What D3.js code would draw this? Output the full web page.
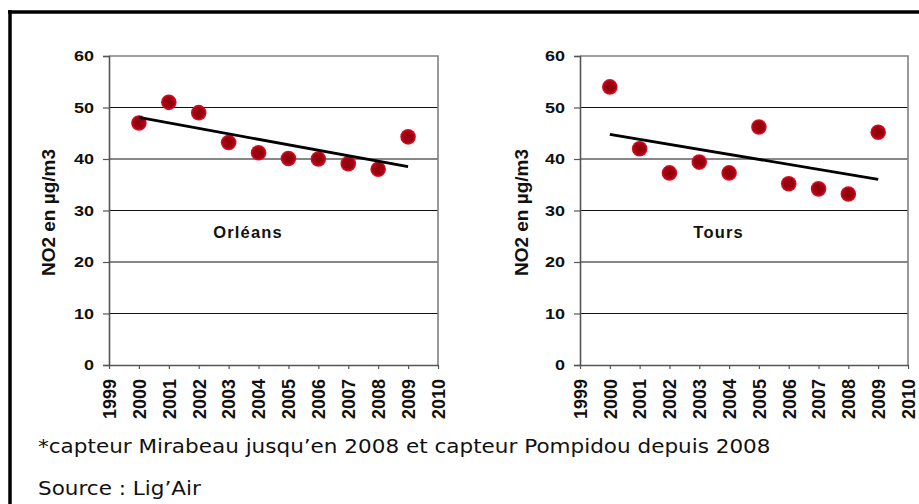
<!DOCTYPE html>
<html>
<head>
<meta charset="utf-8">
<script src="https://cdn.jsdelivr.net/npm/d3@7"></script>
<style>
  html, body { margin: 0; padding: 0; background: #fff; }
  svg { display: block; }
</style>
</head>
<body>
<svg id="chart" width="919" height="504"></svg>
<script>
// Annual mean NO2 concentrations (µg/m3), 2000–2009
const years = [2000, 2001, 2002, 2003, 2004, 2005, 2006, 2007, 2008, 2009];
const orleansValues = [47, 51, 49, 43.2, 41.2, 40.1, 40, 39.1, 38, 44.3];
const toursValues = [54, 42, 37.3, 39.4, 37.3, 46.2, 35.2, 34.2, 33.2, 45.2];
const yTicks = [0, 10, 20, 30, 40, 50, 60];
const xTicks = [1999, 2000, 2001, 2002, 2003, 2004, 2005, 2006, 2007, 2008, 2009, 2010];
const cityNames = ["Orléans", "Tours"];
const yTitle = "NO2 en µg/m3";
const footnote = "*capteur Mirabeau jusqu’en 2008 et capteur Pompidou depuis 2008";
const sourceText = "Source : Lig’Air";

const svg = d3.select("#chart");

// radial shading for the markers
const defs = svg.append("defs");
const grad = defs.append("radialGradient").attr("id", "dot");
grad.append("stop").attr("offset", "0%").attr("stop-color", "#8e0010");
grad.append("stop").attr("offset", "65%").attr("stop-color", "#a0000f");
grad.append("stop").attr("offset", "100%").attr("stop-color", "#e0102a");
defs.append("filter").attr("id", "soft")
  .append("feGaussianBlur").attr("stdDeviation", 0.5);

// outer frame (top and left edges visible)
svg.append("line").attr("x1", 8).attr("x2", 919).attr("y1", 12).attr("y2", 12)
  .attr("stroke", "#000").attr("stroke-width", 3.5);
svg.append("line").attr("x1", 10).attr("x2", 10).attr("y1", 10).attr("y2", 504)
  .attr("stroke", "#000").attr("stroke-width", 3.5);

const fontChart = "Arial, 'Liberation Sans', sans-serif";
const tickStretch = 1.2;

function linearFit(xs, ys) {
  const n = xs.length;
  const mx = d3.mean(xs), my = d3.mean(ys);
  let sxy = 0, sxx = 0;
  for (let i = 0; i < n; i++) {
    sxy += (xs[i] - mx) * (ys[i] - my);
    sxx += (xs[i] - mx) * (xs[i] - mx);
  }
  const b = sxy / sxx;
  return x => my + b * (x - mx);
}

function drawPanel(left, right, values, name, titleX) {
  const top = 56, bottom = 365;
  const x = d3.scaleLinear().domain([1999, 2010]).range([left, right]);
  const y = d3.scaleLinear().domain([0, 60]).range([bottom, top]);
  const g = svg.append("g");

  // gridlines
  g.selectAll("line.grid").data(yTicks.filter(v => v > 0 && v < 60)).join("line")
    .attr("x1", left).attr("x2", right)
    .attr("y1", d => y(d)).attr("y2", d => y(d))
    .attr("stroke", "#111").attr("stroke-width", 1.1);

  // plot frame top / right
  g.append("path")
    .attr("d", `M${left},${y(60)}H${right}V${bottom}`)
    .attr("fill", "none").attr("stroke", "#808080").attr("stroke-width", 1.6);

  // y axis
  const yAxis = g.append("g").attr("transform", `translate(${left},0)`)
    .call(d3.axisLeft(y).tickValues(yTicks).tickSize(6).tickPadding(6));
  yAxis.select(".domain").attr("stroke", "#555").attr("stroke-width", 1.6);
  yAxis.selectAll(".tick line").attr("stroke", "#555").attr("stroke-width", 1.2);
  yAxis.selectAll("text").attr("font-family", fontChart).attr("font-weight", "bold")
    .attr("font-size", 15).attr("fill", "#111")
    .attr("x", -15 / tickStretch)
    .attr("transform", `scale(${tickStretch},1)`);

  // x axis
  const xAxis = g.append("g").attr("transform", `translate(0,${bottom})`)
    .call(d3.axisBottom(x).tickValues(xTicks).tickFormat(d3.format("d")).tickSize(4).tickSizeOuter(0));
  xAxis.select(".domain").attr("stroke", "#555").attr("stroke-width", 1.6);
  xAxis.selectAll(".tick line").attr("stroke", "#555").attr("stroke-width", 1.2);
  xAxis.selectAll("text")
    .attr("font-family", fontChart).attr("font-weight", "bold")
    .attr("font-size", 18).attr("fill", "#111")
    .attr("transform", "rotate(-90)")
    .attr("text-anchor", "end")
    .attr("x", -14).attr("y", 0).attr("dy", "0.35em");

  // y title
  g.append("text")
    .attr("transform", `translate(${titleX},${(top + bottom) / 2 + 2}) rotate(-90)`)
    .attr("text-anchor", "middle").attr("dy", "0.35em")
    .attr("font-family", fontChart).attr("font-weight", "bold")
    .attr("font-size", 19).attr("fill", "#111")
    .text(yTitle);

  // markers
  g.selectAll("circle").data(years.map((yr, i) => [yr, values[i]])).join("circle")
    .attr("cx", d => x(d[0])).attr("cy", d => y(d[1])).attr("r", 7.8)
    .attr("fill", "url(#dot)").attr("filter", "url(#soft)");

  // linear trend
  const fit = linearFit(years, values);
  const x0 = years[0], x1 = years[years.length - 1];
  g.append("line")
    .attr("x1", x(x0)).attr("y1", y(fit(x0)))
    .attr("x2", x(x1)).attr("y2", y(fit(x1)))
    .attr("stroke", "#000").attr("stroke-width", 2.8);

  // city label
  g.append("text")
    .attr("x", x(2003.65)).attr("y", 238)
    .attr("text-anchor", "middle")
    .attr("font-family", fontChart).attr("font-weight", "bold")
    .attr("font-size", 16.5).attr("fill", "#111").attr("letter-spacing", 1.2)
    .text(name);
}

drawPanel(109, 438, orleansValues, cityNames[0], 48);
drawPanel(580, 908, toursValues, cityNames[1], 521);

// notes
const noteStretch = 1.088;
[[footnote, 453], [sourceText, 495]].forEach(([t, yy]) => {
  svg.append("g").attr("transform", `translate(38,${yy}) scale(${noteStretch},1)`)
    .append("text")
    .attr("font-family", "'DejaVu Sans', Verdana, sans-serif").attr("font-size", 19.8)
    .attr("fill", "#111").text(t);
});
</script>
</body>
</html>
